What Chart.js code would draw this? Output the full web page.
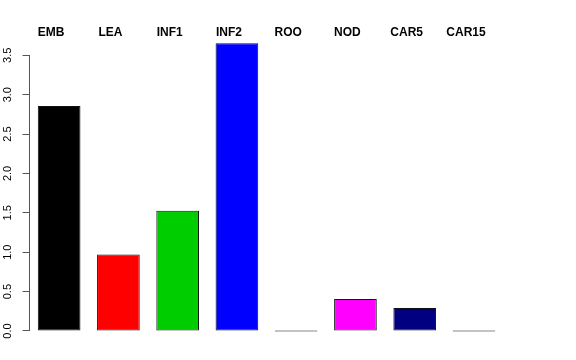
<!DOCTYPE html>
<html>
<head>
<meta charset="utf-8">
<script src="https://cdn.jsdelivr.net/npm/chart.js@4/dist/chart.umd.min.js"></script>
<style>
  html, body { margin: 0; padding: 0; background: #ffffff; }
  #wrap { width: 576px; height: 360px; }
</style>
</head>
<body>
<div id="wrap"><canvas id="c" width="576" height="360"></canvas></div>
<script>
// ---- data ----
const categories = ["EMB", "LEA", "INF1", "INF2", "ROO", "NOD", "CAR5", "CAR15"];
const values = [2.855, 0.972, 1.525, 3.654, 0, 0.406, 0.292, 0];
const barColors = ["#000000", "#FF0000", "#00CD00", "#0000FF", "#00FFFF", "#FF00FF", "#000080", "#808080"];
const yTickValues = [0, 0.5, 1, 1.5, 2, 2.5, 3, 3.5];

const axisColor = "#555555";

const axisLinePlugin = {
  id: "axisLine",
  afterDraw(chart) {
    const y = chart.scales.y;
    const ctx = chart.ctx;
    const x = Math.round(y.right) - 0.5;
    ctx.save();
    ctx.strokeStyle = axisColor;
    ctx.lineWidth = 1;
    ctx.beginPath();
    ctx.moveTo(x, y.getPixelForValue(yTickValues[0]));
    ctx.lineTo(x, y.getPixelForValue(yTickValues[yTickValues.length - 1]));
    ctx.stroke();
    ctx.restore();
  }
};

new Chart(document.getElementById("c"), {
  type: "bar",
  data: {
    labels: categories,
    datasets: [{
      data: values,
      backgroundColor: barColors,
      borderColor: "#111111",
      borderWidth: 1,
      borderSkipped: false,
      minBarLength: 1,
      categoryPercentage: 1,
      barPercentage: 0.72
    }]
  },
  options: {
    responsive: false,
    devicePixelRatio: 1,
    animation: false,
    layout: { padding: { left: 0, right: 72.4, top: 0, bottom: 17.5 } },
    plugins: { legend: { display: false }, tooltip: { enabled: false } },
    scales: {
      x: {
        type: "category",
        display: false,
        offset: true
      },
      x2: {
        type: "category",
        position: "top",
        labels: categories,
        offset: true,
        grid: { display: false, drawTicks: false },
        border: { display: false },
        ticks: {
          autoSkip: false,
          maxRotation: 0,
          minRotation: 0,
          padding: -2.4,
          labelOffset: -8,
          color: "#000000",
          font: { family: "'Liberation Sans', Arial, sans-serif", size: 12, weight: "bold" }
        },
        afterFit(scale) { scale.height = 37; }
      },
      y: {
        type: "linear",
        position: "left",
        min: -0.146,
        max: 3.732,
        grid: {
          display: true,
          drawOnChartArea: false,
          drawTicks: true,
          tickLength: 7,
          color: axisColor
        },
        border: { display: false },
        afterBuildTicks(scale) {
          scale.ticks = yTickValues.map(v => ({ value: v }));
        },
        ticks: {
          minRotation: 90,
          maxRotation: 90,
          crossAlign: "center",
          padding: 6.5,
          color: "#000000",
          font: { family: "'Liberation Sans', Arial, sans-serif", size: 11 },
          callback: (v) => Number(v).toFixed(1)
        },
        afterFit(scale) { scale.width = 29.5; }
      }
    }
  },
  plugins: [axisLinePlugin]
});
</script>
</body>
</html>
